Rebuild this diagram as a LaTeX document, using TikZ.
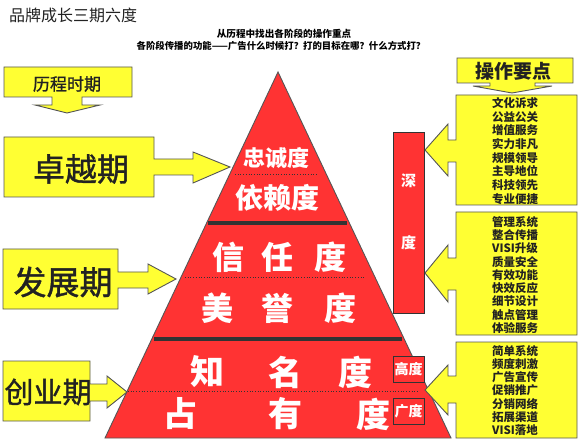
\documentclass[tikz,border=0pt]{standalone}
\usepackage{fontspec}
\newfontfamily\cjk{Noto Sans CJK SC}
\newfontfamily\cjkm[FakeBold=1.2]{Noto Sans CJK SC}
\definecolor{pyr}{HTML}{FF3333}
\definecolor{yel}{HTML}{FFFF33}
\definecolor{edgec}{HTML}{555555}
\definecolor{barc}{HTML}{333333}
\definecolor{txt}{HTML}{222222}
\tikzset{
  callout/.style={fill=yel,draw=edgec,line width=0.9pt,line join=miter},
  pyramid/.style={fill=pyr,draw=edgec,line width=0.9pt},
  sepbar/.style={draw=barc,line width=4pt},
  sepdot/.style={draw=barc,dotted,line width=0.7pt},
  redbox/.style={fill=pyr,draw=barc,line width=0.9pt,inner sep=0pt},
  lefttxt/.style={text=txt,font=\cjkm\fontsize{#1}{#1}\selectfont,inner sep=0pt},
  pyrtxt/.style={text=white,font=\cjk\bfseries\fontsize{#1}{#1}\selectfont,inner sep=0pt},
  listtxt/.style={text=txt,font=\cjk\bfseries\fontsize{11.5}{#1}\selectfont,align=center,inner sep=0pt},
  smalltxt/.style={text=white,font=\cjk\bfseries\fontsize{#1}{#1}\selectfont,inner sep=0pt},
}
\begin{document}
\begin{tikzpicture}[x=1pt,y=-1pt]
\useasboundingbox[fill=white] (0,0) rectangle (580,443);

% title
\node[text=txt,font=\cjk\fontsize{16}{16}\selectfont,inner sep=0pt,anchor=west] (title) at (9,15) {品牌成长三期六度};
\node[font=\cjk\bfseries\fontsize{9.6}{9.6}\selectfont,inner sep=0pt] (sub1) at (284,34) {从历程中找出各阶段的操作重点};
\node[font=\cjk\bfseries\fontsize{9.4}{9.4}\selectfont,inner sep=0pt] (sub2) at (281,46) {各阶段传播的功能——广告什么时候打？打的目标在哪？什么方式打？};

% pyramid
\draw[pyramid] (278,72) -- (451,438) -- (105,438) -- cycle;
\draw[sepbar] (208,223) -- (347,223);
\draw[sepbar] (154,339) -- (402,339);
\draw[sepdot] (235,174) -- (318,174);
\draw[sepdot] (185,277) -- (365,277);
\draw[sepdot] (128,391) -- (418,391);

\node[pyrtxt=22] (zc) at (276,158) {忠诚度};
\node[pyrtxt=28] (yl) at (277,198) {依赖度};
\node[pyrtxt=32] (xr1) at (228,257) {信};
\node[pyrtxt=32] (xr2) at (277,257) {任};
\node[pyrtxt=32] (xr3) at (330,257) {度};
\node[pyrtxt=32] (my1) at (217,308) {美};
\node[pyrtxt=32] (my2) at (277,308) {誉};
\node[pyrtxt=32] (my3) at (340,308) {度};
\node[pyrtxt=34] (zm1) at (207,372) {知};
\node[pyrtxt=34] (zm2) at (285,372) {名};
\node[pyrtxt=34] (zm3) at (355,372) {度};
\node[pyrtxt=34] (zy1) at (180,414) {占};
\node[pyrtxt=34] (zy2) at (285,414) {有};
\node[pyrtxt=34] (zy3) at (373,414) {度};

% depth / height / width boxes
\node[redbox,minimum width=31pt,minimum height=181pt] (sd) at (408.5,222.5) {};
\node[smalltxt=15] (sd1) at (408.5,181) {深};
\node[smalltxt=15] (sd2) at (408.5,243) {度};
\node[redbox,minimum width=31pt,minimum height=26pt,smalltxt=14] (gd) at (408.5,369) {高度};
\node[redbox,minimum width=31pt,minimum height=26pt,smalltxt=14] (kd) at (408.5,411) {广度};

% left callouts
\draw[callout] (4,67) -- (132,67) -- (132,97) -- (82,97) -- (82,105) -- (100,105) -- (67,113) -- (35,105) -- (52,105) -- (52,97) -- (4,97) -- cycle;
\node[lefttxt=17] (lc) at (67,84) {历程时期};

\draw[callout] (4,137) -- (154,137) -- (154,159) -- (193,159) -- (193,152) -- (230,167) -- (193,183) -- (193,175) -- (154,175) -- (154,197) -- (4,197) -- cycle;
\node[lefttxt=32] (zy) at (81,169) {卓越期};

\draw[callout] (3,249) -- (118,249) -- (118,272) -- (148,272) -- (148,264) -- (176,279) -- (148,294) -- (148,288) -- (118,288) -- (118,309) -- (3,309) -- cycle;
\node[lefttxt=33] (fz) at (63,282) {发展期};

\draw[callout] (3,361) -- (90,361) -- (90,384) -- (107,384) -- (107,376) -- (127,392) -- (107,408) -- (107,401) -- (90,401) -- (90,421) -- (3,421) -- cycle;
\node[lefttxt=29] (cy) at (48,392) {创业期};

% right callouts
\draw[callout] (457,58) -- (573,58) -- (573,83) -- (535,83) -- (535,86) -- (552,86) -- (512,93) -- (473,86) -- (490,86) -- (490,83) -- (457,83) -- cycle;
\node[text=txt,font=\cjk\bfseries\fontsize{19}{19}\selectfont,inner sep=0pt] (cz) at (513,71) {操作要点};

\draw[callout] (456,95) -- (577,95) -- (577,205) -- (456,205) -- (456,162) -- (448,162) -- (448,176) -- (425,150) -- (448,124) -- (448,140) -- (456,140) -- cycle;
\node[listtxt=13.7] (r1) at (515,151) {文化诉求\\公益公关\\增值服务\\实力非凡\\规模领导\\主导地位\\科技领先\\专业便捷};

\draw[callout] (456,212) -- (577,212) -- (577,335) -- (456,335) -- (456,290) -- (448,290) -- (448,302) -- (425,273) -- (448,245) -- (448,258) -- (456,258) -- cycle;
\node[listtxt=13.25] (r2) at (515,275) {管理系统\\整合传播\\VISI升级\\质量安全\\有效功能\\快效反应\\细节设计\\触点管理\\体验服务};

\draw[callout] (456,342) -- (577,342) -- (577,438) -- (456,438) -- (456,403) -- (448,403) -- (448,415) -- (425,390) -- (448,365) -- (448,376) -- (456,376) -- cycle;
\node[listtxt=13.2] (r3) at (515,390.5) {简单系统\\频度刺激\\广告宣传\\促销推广\\分销网络\\拓展渠道\\VISI落地};
\end{tikzpicture}
\end{document}
